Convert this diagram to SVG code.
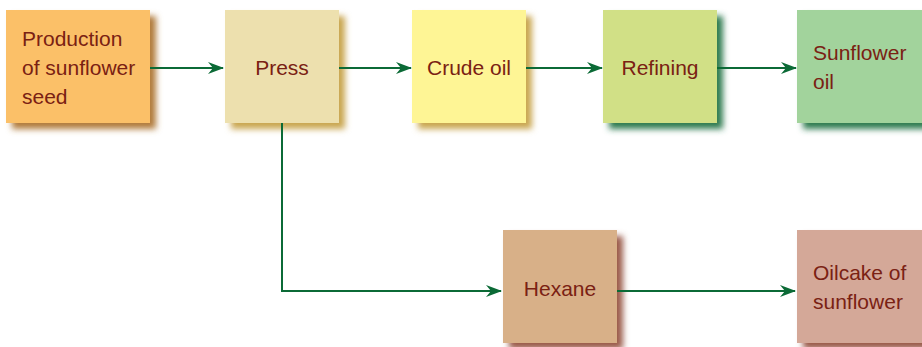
<svg xmlns="http://www.w3.org/2000/svg" width="922" height="347" viewBox="0 0 922 347">
<style>
.t{font-family:"Liberation Sans",Arial,sans-serif;font-size:21px;fill:#7a2113}
.c{text-anchor:middle}
.ln{fill:none;stroke:#0b6a36;stroke-width:2}
</style>
<defs>
<filter id="sh" x="-20%" y="-20%" width="150%" height="150%"><feGaussianBlur stdDeviation="3"/></filter>
<marker id="ah" viewBox="0 0 16 12" refX="15" refY="6" markerWidth="16" markerHeight="12" markerUnits="userSpaceOnUse" orient="auto"><path d="M0,0 L16,6 L0,12 L5,6 Z" fill="#0b6a36"/></marker>
</defs>
<rect width="922" height="347" fill="#fff"/>
<g id="n1"><rect x="12" y="16" width="144" height="113" fill="#b07a3a" filter="url(#sh)"/><rect x="6" y="10" width="144" height="113" fill="#fbc068"/><text class="t" x="22" y="46">Production</text><text class="t" x="22" y="75">of sunflower</text><text class="t" x="22" y="104">seed</text></g>
<g id="n2"><rect x="231" y="16" width="114" height="113" fill="#c9a650" filter="url(#sh)"/><rect x="225" y="10" width="114" height="113" fill="#ede0ae"/><text class="t c" x="282" y="75">Press</text></g>
<g id="n3"><rect x="418" y="16" width="114" height="113" fill="#c9a650" filter="url(#sh)"/><rect x="412" y="10" width="114" height="113" fill="#fef595"/><text class="t c" x="469" y="75">Crude oil</text></g>
<g id="n4"><rect x="609" y="16" width="114" height="113" fill="#2e7a50" filter="url(#sh)"/><rect x="603" y="10" width="114" height="113" fill="#d1e086"/><text class="t c" x="660" y="75">Refining</text></g>
<g id="n5"><rect x="803" y="16" width="130" height="113" fill="#2e7a50" filter="url(#sh)"/><rect x="797" y="10" width="130" height="113" fill="#a2d39c"/><text class="t" x="813" y="60">Sunflower</text><text class="t" x="813" y="89">oil</text></g>
<g id="n6"><rect x="509" y="236" width="114" height="113" fill="#9a5a4a" filter="url(#sh)"/><rect x="503" y="230" width="114" height="113" fill="#d8b088"/><text class="t c" x="560" y="296">Hexane</text></g>
<g id="n7"><rect x="803" y="236" width="130" height="113" fill="#9a5a4a" filter="url(#sh)"/><rect x="797" y="230" width="130" height="113" fill="#d4a898"/><text class="t" x="813" y="280">Oilcake of</text><text class="t" x="813" y="309">sunflower</text></g>
<g id="connectors">
<line class="ln" x1="150" y1="68" x2="223" y2="68" marker-end="url(#ah)"/>
<line class="ln" x1="339" y1="68" x2="411" y2="68" marker-end="url(#ah)"/>
<line class="ln" x1="526" y1="68" x2="602" y2="68" marker-end="url(#ah)"/>
<line class="ln" x1="717" y1="68" x2="796" y2="68" marker-end="url(#ah)"/>
<polyline class="ln" points="282,123 282,291 501,291" marker-end="url(#ah)"/>
<line class="ln" x1="617" y1="291" x2="795" y2="291" marker-end="url(#ah)"/>
</g>
</svg>
